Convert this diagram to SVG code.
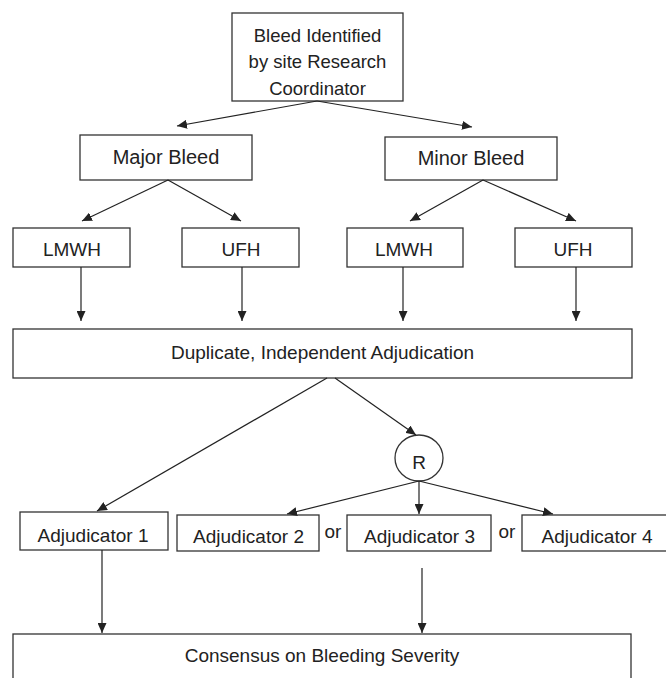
<svg xmlns="http://www.w3.org/2000/svg" width="666" height="678" viewBox="0 0 666 678">
<style>
  .box { fill: #fff; stroke: #333; stroke-width: 1.3; }
  .t { font-family: "Liberation Sans", Arial, sans-serif; font-size: 19px; fill: #222; text-anchor: middle; }
  .conn line { stroke: #222; stroke-width: 1.2; fill: none; marker-end: url(#arr); }
</style>
<defs>
  <marker id="arr" markerUnits="userSpaceOnUse" markerWidth="11" markerHeight="9" refX="10" refY="4.5" orient="auto">
    <path d="M0,0 L10,4.5 L0,9 z" fill="#222"/>
  </marker>
</defs>
<rect width="666" height="678" fill="#fff"/>

<g id="bleed-identified">
  <rect class="box" x="232" y="13" width="171" height="88"/>
  <text class="t" x="317.5" y="42" style="font-size:18.5px">Bleed Identified</text>
  <text class="t" x="317.5" y="68" style="font-size:18.5px">by site Research</text>
  <text class="t" x="317.5" y="95" style="font-size:18.5px">Coordinator</text>
</g>
<g id="major-bleed">
  <rect class="box" x="80" y="135" width="172" height="45"/>
  <text class="t" x="166" y="164" style="font-size:20px">Major Bleed</text>
</g>
<g id="minor-bleed">
  <rect class="box" x="385" y="137" width="172" height="43"/>
  <text class="t" x="471" y="165" style="font-size:20px">Minor Bleed</text>
</g>
<g id="lmwh-major">
  <rect class="box" x="13" y="228" width="117" height="39"/>
  <text class="t" x="72" y="256">LMWH</text>
</g>
<g id="ufh-major">
  <rect class="box" x="182" y="228" width="117" height="39"/>
  <text class="t" x="241" y="256">UFH</text>
</g>
<g id="lmwh-minor">
  <rect class="box" x="347" y="228" width="116" height="39"/>
  <text class="t" x="404" y="256">LMWH</text>
</g>
<g id="ufh-minor">
  <rect class="box" x="515" y="228" width="117" height="39"/>
  <text class="t" x="573" y="256">UFH</text>
</g>
<g id="duplicate">
  <rect class="box" x="13" y="329" width="619" height="49"/>
  <text class="t" x="322.5" y="359">Duplicate, Independent Adjudication</text>
</g>
<g id="randomize">
  <ellipse class="box" cx="419" cy="458" rx="24" ry="23"/>
  <text class="t" x="419" y="469">R</text>
</g>
<g id="adjudicator-1">
  <rect class="box" x="20" y="512" width="148" height="38"/>
  <text class="t" x="93" y="542">Adjudicator 1</text>
</g>
<g id="adjudicator-2">
  <rect class="box" x="177" y="515" width="142" height="36"/>
  <text class="t" x="248.5" y="543">Adjudicator 2</text>
</g>
<g id="adjudicator-3">
  <rect class="box" x="347" y="515" width="144" height="36"/>
  <text class="t" x="419.5" y="543">Adjudicator 3</text>
</g>
<g id="adjudicator-4">
  <rect class="box" x="522" y="515" width="150" height="36"/>
  <text class="t" x="597" y="543">Adjudicator 4</text>
</g>
<g id="or-labels">
  <text class="t" x="333" y="538">or</text>
  <text class="t" x="507" y="538">or</text>
</g>
<g id="consensus">
  <rect class="box" x="13" y="634" width="618" height="60"/>
  <text class="t" x="322" y="662">Consensus on Bleeding Severity</text>
</g>

<g id="connectors" class="conn">
  <line x1="317" y1="101" x2="177" y2="126"/>
  <line x1="317" y1="101" x2="472" y2="127"/>
  <line x1="168" y1="180" x2="82" y2="221"/>
  <line x1="168" y1="180" x2="241" y2="221"/>
  <line x1="483" y1="180" x2="410" y2="221"/>
  <line x1="483" y1="180" x2="576" y2="221"/>
  <line x1="81" y1="267" x2="81" y2="321"/>
  <line x1="242" y1="267" x2="242" y2="321"/>
  <line x1="403" y1="267" x2="403" y2="321"/>
  <line x1="576" y1="267" x2="576" y2="321"/>
  <line x1="327" y1="378" x2="97" y2="511"/>
  <line x1="335" y1="378" x2="416" y2="435"/>
  <line x1="419" y1="481" x2="287" y2="514"/>
  <line x1="419" y1="481" x2="419" y2="514"/>
  <line x1="419" y1="481" x2="553" y2="514"/>
  <line x1="102" y1="550" x2="102" y2="633"/>
  <line x1="422" y1="568" x2="422" y2="633"/>
</g>
</svg>
